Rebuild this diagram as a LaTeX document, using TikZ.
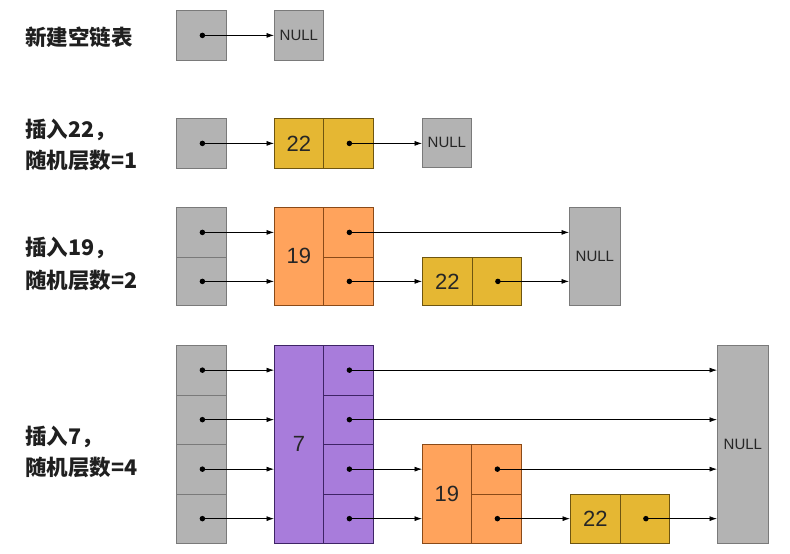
\documentclass[tikz,border=0pt]{standalone}
\usepackage{fontspec}
\setmainfont{Liberation Sans}
\newfontfamily\cjk{Noto Sans CJK SC}
\usetikzlibrary{arrows.meta}
\definecolor{gfill}{HTML}{B3B3B3}
\definecolor{gdraw}{HTML}{7A7A7A}
\definecolor{yfill}{HTML}{E5B733}
\definecolor{ydraw}{HTML}{6E5510}
\definecolor{ofill}{HTML}{FFA35C}
\definecolor{odraw}{HTML}{8A4A18}
\definecolor{pfill}{HTML}{A87CDB}
\definecolor{pdraw}{HTML}{3E2466}
\tikzset{
  cell/.style={draw, line width=0.8pt, inner sep=0pt, anchor=north west},
  sz/.style 2 args={minimum width=#1pt, minimum height=#2pt},
  gcell/.style={cell, fill=gfill, draw=gdraw},
  ycell/.style={cell, fill=yfill, draw=ydraw},
  ocell/.style={cell, fill=ofill, draw=odraw},
  pcell/.style={cell, fill=pfill, draw=pdraw},
  nulltxt/.style={font=\fontsize{15}{17}\selectfont, text=black!85},
  numtxt/.style={font=\fontsize{22}{25}\selectfont, text=black!85},
  lbl/.style={anchor=west, inner sep=0pt, font=\cjk\bfseries\fontsize{21.5}{24}\selectfont, text=black!88},
  ptr/.style={-{Latex[length=7.5pt,width=5pt]}, line width=0.7pt},
  dotc/.style={circle, fill=black, inner sep=0pt, minimum size=5.5pt}
}
\begin{document}
\begin{tikzpicture}[x=1pt,y=-1pt]
\useasboundingbox (0,0) rectangle (790,554);
% labels
\node[lbl] (l1) at (25,37) {新建空链表};
\node[lbl] (l2a) at (25,130) {插入22，};
\node[lbl] (l2b) at (25,160) {随机层数=1};
\node[lbl] (l3a) at (25,248) {插入19，};
\node[lbl] (l3b) at (25,280) {随机层数=2};
\node[lbl] (l4a) at (25,437) {插入7，};
\node[lbl] (l4b) at (25,467) {随机层数=4};
% row 1
\node[gcell, sz={50}{50}] (a0) at (176,10) {};
\node[gcell, sz={49}{50}, nulltxt] (aN) at (274,10) {NULL};
% row 2
\node[gcell, sz={50}{50}] (b0) at (176,118) {};
\node[ycell, sz={49}{50}, numtxt] (bk) at (274,118) {22};
\node[ycell, sz={50}{50}] (bp) at (323,118) {};
\node[gcell, sz={49}{49}, nulltxt] (bN) at (422,118) {NULL};
% row 3
\node[gcell, sz={50}{50}] (c0) at (176,207) {};
\node[gcell, sz={50}{48}] (c1) at (176,257) {};
\node[ocell, sz={49}{98}, numtxt] (ck) at (274,207) {19};
\node[ocell, sz={50}{50}] (cp0) at (323,207) {};
\node[ocell, sz={50}{48}] (cp1) at (323,257) {};
\node[ycell, sz={50}{48}, numtxt] (dk) at (422,257) {22};
\node[ycell, sz={49}{48}] (dp) at (472,257) {};
\node[gcell, sz={51}{98}, nulltxt] (cN) at (569,207) {NULL};
% row 4
\node[gcell, sz={50}{49.5}] (e0) at (176,345) {};
\node[gcell, sz={50}{49.5}] (e1) at (176,394.5) {};
\node[gcell, sz={50}{49.5}] (e2) at (176,444) {};
\node[gcell, sz={50}{49.5}] (e3) at (176,493.5) {};
\node[pcell, sz={49}{198}, numtxt] (ek) at (274,345) {7};
\node[pcell, sz={50}{49.5}] (ep0) at (323,345) {};
\node[pcell, sz={50}{49.5}] (ep1) at (323,394.5) {};
\node[pcell, sz={50}{49.5}] (ep2) at (323,444) {};
\node[pcell, sz={50}{49.5}] (ep3) at (323,493.5) {};
\node[ocell, sz={49}{99}, numtxt] (fk) at (422,444) {19};
\node[ocell, sz={50}{49.5}] (fp0) at (471,444) {};
\node[ocell, sz={50}{49.5}] (fp1) at (471,493.5) {};
\node[ycell, sz={50}{49.5}, numtxt] (gk) at (570,493.5) {22};
\node[ycell, sz={49}{49.5}] (gp) at (620,493.5) {};
\node[gcell, sz={51}{198}, nulltxt] (eN) at (717,345) {NULL};
% dots
\foreach \n in {a0,b0,bp,c0,c1,cp0,cp1,dp,e0,e1,e2,e3,ep0,ep1,ep2,ep3,fp0,fp1,gp}
  \node[dotc] (d\n) at ([xshift=1pt]\n.center) {};
% arrows
\draw[ptr] (da0.center) -- (da0.center -| aN.west);
\draw[ptr] (db0.center) -- (db0.center -| bk.west);
\draw[ptr] (dbp.center) -- (dbp.center -| bN.west);
\draw[ptr] (dc0.center) -- (dc0.center -| ck.west);
\draw[ptr] (dc1.center) -- (dc1.center -| ck.west);
\draw[ptr] (dcp0.center) -- (dcp0.center -| cN.west);
\draw[ptr] (dcp1.center) -- (dcp1.center -| dk.west);
\draw[ptr] (ddp.center) -- (ddp.center -| cN.west);
\draw[ptr] (de0.center) -- (de0.center -| ek.west);
\draw[ptr] (de1.center) -- (de1.center -| ek.west);
\draw[ptr] (de2.center) -- (de2.center -| ek.west);
\draw[ptr] (de3.center) -- (de3.center -| ek.west);
\draw[ptr] (dep0.center) -- (dep0.center -| eN.west);
\draw[ptr] (dep1.center) -- (dep1.center -| eN.west);
\draw[ptr] (dep2.center) -- (dep2.center -| fk.west);
\draw[ptr] (dep3.center) -- (dep3.center -| fk.west);
\draw[ptr] (dfp0.center) -- (dfp0.center -| eN.west);
\draw[ptr] (dfp1.center) -- (dfp1.center -| gk.west);
\draw[ptr] (dgp.center) -- (dgp.center -| eN.west);
\end{tikzpicture}
\end{document}
